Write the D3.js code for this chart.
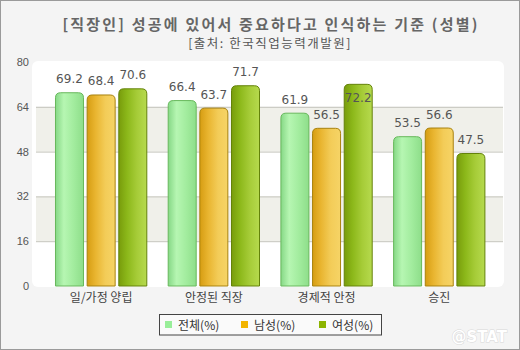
<!DOCTYPE html>
<html><head><meta charset="utf-8">
<script src="https://cdn.jsdelivr.net/npm/d3@7"></script>
<style>html,body{margin:0;padding:0;background:#f4f4f4;}svg{display:block;}</style>
</head><body>
<svg id="c" width="520" height="350"></svg>
<script>
const categories = ["일/가정 양립", "안정된 직장", "경제적 안정", "승진"];
const seriesNames = ["전체(%)", "남성(%)", "여성(%)"];
const totalValues = [69.2, 66.4, 61.9, 53.5];
const maleValues = [68.4, 63.7, 56.5, 56.6];
const femaleValues = [70.6, 71.7, 72.2, 47.5];
const yTicks = [0, 16, 32, 48, 64, 80];
const titleText = "[직장인] 성공에 있어서 중요하다고 인식하는 기준 (성별)";
const subtitleText = "[출처: 한국직업능력개발원]";

const seriesValues = [totalValues, maleValues, femaleValues];
const colors = [
  {fill: "#99ee99", stops: ["#86d886", "#b6f6b2", "#a2ec9e", "#8ede8a"], stroke: "#68b85c"},
  {fill: "#f2b400", stops: ["#d69d12", "#e9b530", "#f3cc58", "#f6d466"], stroke: "#a8820e"},
  {fill: "#8cb400", stops: ["#789c0c", "#8cb81a", "#a6cc38", "#b6da4e"], stroke: "#64820a"}
];

const svg = d3.select("#c");
const W = 520, H = 350;
const font = "'DejaVu Sans', Verdana, sans-serif";
const kfont = "'Noto Sans CJK KR', sans-serif";

// background + border
svg.append("rect").attr("x", 0).attr("y", 0).attr("width", W).attr("height", H).attr("fill", "#f4f4f4");
svg.append("rect").attr("x", 0.5).attr("y", 0.5).attr("width", W - 1).attr("height", H - 1)
  .attr("fill", "none").attr("stroke", "#9a9a9a").attr("stroke-width", 1);

const plot = {left: 32, right: 504, top: 62, bottom: 286};
const y = d3.scaleLinear().domain([0, 80]).range([plot.bottom, plot.top]);
const x0 = d3.scaleBand().domain(categories).range([44.8, 495.6]).paddingInner(0.181).paddingOuter(0.0905);
const x1 = d3.scaleBand().domain(d3.range(3)).range([0, x0.bandwidth()]).paddingInner(0.084);

// gradients
const defs = svg.append("defs");
colors.forEach((c, i) => {
  const g = defs.append("linearGradient").attr("id", "g" + i).attr("x1", "0").attr("x2", "1").attr("y1", "0").attr("y2", "0");
  [0, 0.3, 0.65, 1].forEach((o, k) => g.append("stop").attr("offset", o).attr("stop-color", c.stops[k]));
});

// plot panel
svg.append("rect").attr("x", plot.left).attr("y", plot.top - 1).attr("width", plot.right - plot.left)
  .attr("height", plot.bottom - plot.top + 2).attr("rx", 6).attr("fill", "#ffffff");

// alternate bands
for (let i = 0; i < yTicks.length - 1; i++) {
  if (i % 2 === 1) {
    svg.append("rect").attr("x", 36).attr("width", 503 - 36)
      .attr("y", y(yTicks[i + 1])).attr("height", y(yTicks[i]) - y(yTicks[i + 1]))
      .attr("fill", "#f0f0ea");
  }
}
// gridlines
yTicks.filter(t => t > 0 && t < 80).forEach(t => {
  svg.append("line").attr("x1", 36).attr("x2", 503).attr("y1", y(t) + 0.5).attr("y2", y(t) + 0.5)
    .attr("stroke", "#c4c4bc").attr("stroke-width", 1);
});

// y axis labels
const yAxis = d3.axisLeft(y).tickValues(yTicks).tickSize(0).tickPadding(0);
const ya = svg.append("g").attr("transform", "translate(29,0)").call(yAxis);
ya.select(".domain").remove();
ya.selectAll("text").attr("font-family", "'Liberation Sans', Arial, sans-serif").attr("font-size", 11).attr("fill", "#555");

// bars
const groups = svg.append("g").selectAll("g").data(categories).join("g")
  .attr("transform", d => `translate(${x0(d)},0)`);

function barPath(x, yTop, w, yBot, r) {
  r = Math.min(r, (yBot - yTop));
  return `M${x},${yBot}L${x},${yTop + r}Q${x},${yTop} ${x + r},${yTop}L${x + w - r},${yTop}Q${x + w},${yTop} ${x + w},${yTop + r}L${x + w},${yBot}Z`;
}

groups.each(function(cat, ci) {
  const g = d3.select(this);
  seriesValues.forEach((vals, si) => {
    const v = vals[ci];
    const bx = x1(si), bw = x1.bandwidth();
    g.append("path").attr("d", barPath(bx + 0.5, y(v) + 0.5, bw - 1, y(0), 5))
      .attr("fill", `url(#g${si})`).attr("stroke", colors[si].stroke).attr("stroke-width", 1);
    const inside = v > 72;
    g.append("text").attr("x", bx + bw / 2).attr("y", inside ? y(v) + 18 : y(v) - 9)
      .attr("text-anchor", "middle").attr("font-family", font).attr("font-size", 12)
      .attr("fill", "#555").text(v.toFixed(1));
  });
});

// x axis labels
const xAxis = d3.axisBottom(x0).tickSize(0).tickPadding(0);
const xa = svg.append("g").attr("transform", `translate(0,${plot.bottom + 7})`).call(xAxis);
xa.select(".domain").remove();
xa.selectAll("text").attr("font-family", kfont).attr("font-size", 12).attr("fill", "#444").attr("dy", "0.71em");

// title
svg.append("text").attr("x", 271).attr("y", 30).attr("text-anchor", "middle")
  .attr("font-family", kfont).attr("font-size", 15).attr("font-weight", "bold")
  .attr("letter-spacing", 2.2).attr("fill", "#666").text(titleText);
svg.append("text").attr("x", 270).attr("y", 48).attr("text-anchor", "middle")
  .attr("font-family", kfont).attr("font-size", 12.5).attr("letter-spacing", 1.5)
  .attr("fill", "#555").text(subtitleText);

// legend
svg.append("rect").attr("x", 159.5).attr("y", 314.5).attr("width", 222).attr("height", 20.5)
  .attr("fill", "#fafafa").attr("stroke", "#444").attr("stroke-width", 1);
const legendX = [165, 241, 319];
seriesNames.forEach((n, i) => {
  svg.append("rect").attr("x", legendX[i]).attr("y", 321).attr("width", 7).attr("height", 7).attr("fill", colors[i].fill);
  svg.append("text").attr("x", legendX[i] + 13).attr("y", 329.5).attr("font-family", kfont)
    .attr("font-size", 12).attr("fill", "#333").text(n);
});

// watermark
svg.append("text").attr("x", 507).attr("y", 342).attr("text-anchor", "end")
  .attr("font-family", "'DejaVu Sans', sans-serif").attr("font-weight", "bold").attr("font-size", 15)
  .attr("fill", "#ffffff").attr("stroke", "#d8d8d8").attr("stroke-width", 1).attr("paint-order", "stroke")
  .text("@STAT");
</script>
</body></html>
